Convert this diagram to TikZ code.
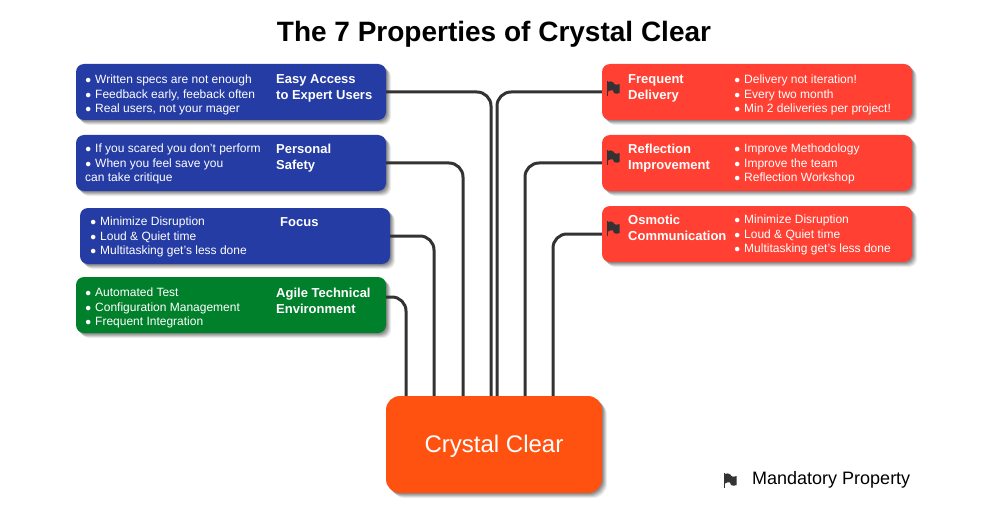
\documentclass[tikz,border=0pt]{standalone}
\usepackage{fontspec}
\usepackage{xcolor}
\usetikzlibrary{positioning,calc}
\usetikzlibrary{shadows}
\setmainfont{Liberation Sans}
\definecolor{theme}{RGB}{36, 60, 163}
\definecolor{alert}{RGB}{255, 64, 51}
\definecolor{tech}{RGB}{0, 128, 43}
\definecolor{core}{RGB}{255, 82, 17}
\definecolor{wire}{RGB}{51, 51, 51}
\newcommand{\itm}{\makebox[10pt][l]{\fontsize{10.5}{10}\selectfont ●}}

\tikzset{
  softshadow/.style={
    drop shadow={shadow xshift=5pt,shadow yshift=-5pt,opacity=.07,fill=black},
    drop shadow={shadow xshift=4pt,shadow yshift=-4pt,opacity=.1,fill=black},
    drop shadow={shadow xshift=3pt,shadow yshift=-3pt,opacity=.12,fill=black},
    drop shadow={shadow xshift=2pt,shadow yshift=-2pt,opacity=.14,fill=black},
    drop shadow={shadow xshift=1pt,shadow yshift=-1pt,opacity=.14,fill=black}},
  propbox/.style={rectangle,rounded corners=8pt,minimum width=310pt,minimum height=56pt,inner sep=0pt,softshadow},
  listtext/.style={anchor=west,inner sep=0pt,align=left,text=white,font=\fontsize{12}{14.4}\selectfont},
  titletext/.style={anchor=west,inner sep=0pt,align=left,text=white,font=\fontsize{13}{15.6}\selectfont\bfseries},
  wireline/.style={draw=wire,line width=3pt,rounded corners=14pt},
  flagmark/.pic={
    \fill[wire] (0,0) rectangle (1.2,15);
    \fill[wire] (1,1) .. controls (3,0) and (5,0) .. (7,2) -- (7,3) .. controls (9,4) and (10,4) .. (12.5,3) -- (12.5,12) .. controls (10,13) and (9,13) .. (7,12) -- (6,9.5) .. controls (4,8.5) and (3,9.5) .. (1,10.5) -- cycle;
  }
}

\begin{document}
\begin{tikzpicture}[x=1pt,y=-1pt]
      \useasboundingbox (0,0) rectangle (988,524);

      \node[inner sep=0pt,font=\fontsize{28}{28}\selectfont\bfseries] (heading) at (494,34) {The 7 Properties of Crystal Clear};

      \node[propbox,fill=theme] (easy) at (231,92) {};
      \node[listtext] (easylist) at (85,95) {\itm Written specs are not enough\\\itm Feedback early, feeback often\\\itm Real users, not your mager};
      \node[titletext] (easytitle) at (276,88.5) {Easy Access\\to Expert Users};

      \node[propbox,fill=theme] (safety) at (231,163) {};
      \node[listtext] (safetylist) at (85,164) {\itm If you scared you don't perform\\\itm When you feel save you\\can take critique};
      \node[titletext] (safetytitle) at (276,158) {Personal\\Safety};

      \node[propbox,fill=theme] (focus) at (235,236) {};
      \node[listtext] (focuslist) at (90,237) {\itm Minimize Disruption\\\itm Loud \& Quiet time\\\itm Multitasking get's less done};
      \node[titletext] (focustitle) at (280,222.5) {Focus};

      \node[propbox,fill=tech] (agile) at (231,305) {};
      \node[listtext] (agilelist) at (85,308) {\itm Automated Test\\\itm Configuration Management\\\itm Frequent Integration};
      \node[titletext] (agiletitle) at (276,301) {Agile Technical\\Environment};

      \node[propbox,fill=alert] (delivery) at (757,92) {};
      \node[listtext] (deliverylist) at (734,95) {\itm Delivery not iteration!\\\itm Every two month\\\itm Min 2 deliveries per project!};
      \node[titletext] (deliverytitle) at (628,88.5) {Frequent\\Delivery};

      \node[propbox,fill=alert] (reflection) at (757,163) {};
      \node[listtext] (reflectionlist) at (734,164) {\itm Improve Methodology\\\itm Improve the team\\\itm Reflection Workshop};
      \node[titletext] (reflectiontitle) at (628,158) {Reflection\\Improvement};

      \node[propbox,fill=alert] (osmotic) at (757,234) {};
      \node[listtext] (osmoticlist) at (734,235) {\itm Minimize Disruption\\\itm Loud \& Quiet time\\\itm Multitasking get's less done};
      \node[titletext] (osmotictitle) at (628,228) {Osmotic\\Communication};

      \node[rectangle,rounded corners=14pt,minimum width=216pt,minimum height=97pt,inner sep=0pt,softshadow,fill=core] (crystal) at (494,444.5) {};
      \node[inner sep=0pt,text=white,font=\fontsize{24}{24}\selectfont] (crystaltitle) at (494,446) {Crystal Clear};

      \draw[wireline] (easy.east) -| ([xshift=-3pt]crystal.north);
      \draw[wireline] (safety.east) -| ([xshift=-31pt]crystal.north);
      \draw[wireline] (focus.east) -| ([xshift=-60pt]crystal.north);
      \draw[wireline] ([yshift=8pt]agile.east) -| ([xshift=-88pt]crystal.north);

      \draw[wireline] (delivery.west) -| ([xshift=3pt]crystal.north);
      \draw[wireline] (reflection.west) -| ([xshift=31pt]crystal.north);
      \draw[wireline] (osmotic.west) -| ([xshift=59pt]crystal.north);

      \pic at (607,81) {flagmark};
      \pic at (607,150) {flagmark};
      \pic at (607,221) {flagmark};

      \pic at (724,473) {flagmark};
      \node[anchor=west,inner sep=0pt,font=\fontsize{18}{18}\selectfont] (legend) at (752,480) {Mandatory Property};
\end{tikzpicture}
\end{document}
